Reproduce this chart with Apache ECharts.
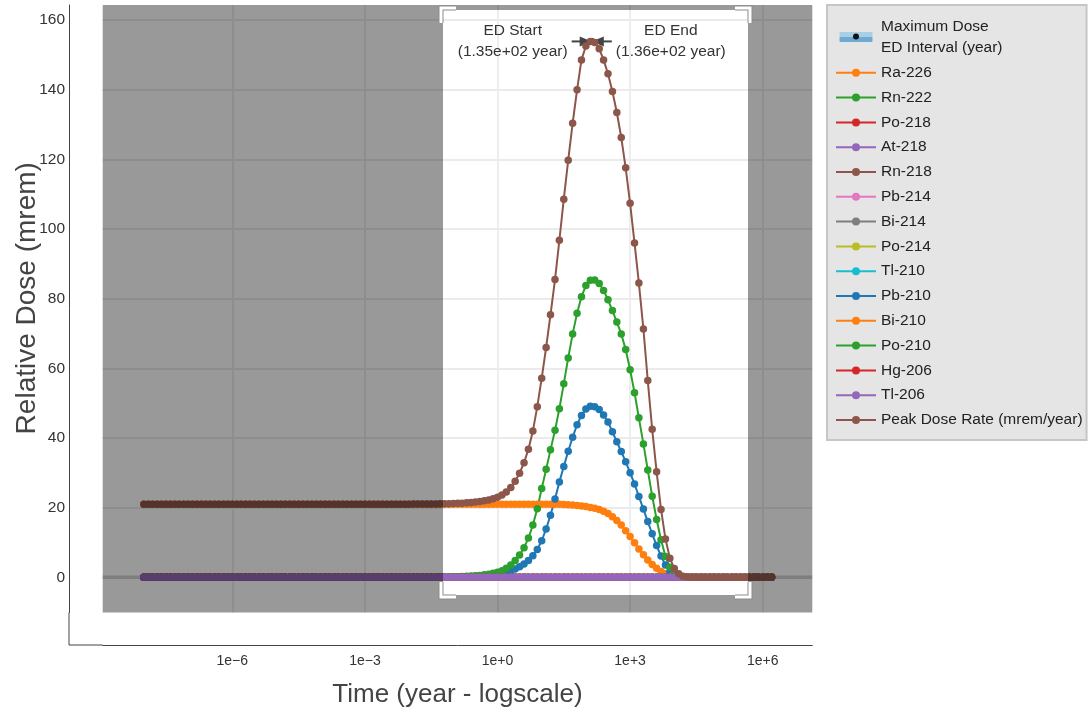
<!DOCTYPE html>
<html>
<head>
<meta charset="utf-8">
<script src="https://cdn.jsdelivr.net/npm/echarts@6/dist/echarts.min.js"></script>
<style>
  html, body { margin: 0; padding: 0; background: #ffffff; }
  #chart { width: 1089px; height: 714px; }
</style>
</head>
<body>
<div id="chart"></div>
<script>
// ---------------------------------------------------------------------------
// Sample times (years), ten per decade from 1e-8 to 1.58e6
// ---------------------------------------------------------------------------
const TIME_YEARS = [
  1e-8, 1.26e-8, 1.58e-8, 2e-8, 2.51e-8, 3.16e-8, 3.98e-8, 5.01e-8, 6.31e-8, 7.94e-8,
  1e-7, 1.26e-7, 1.58e-7, 2e-7, 2.51e-7, 3.16e-7, 3.98e-7, 5.01e-7, 6.31e-7, 7.94e-7,
  1e-6, 1.26e-6, 1.58e-6, 2e-6, 2.51e-6, 3.16e-6, 3.98e-6, 5.01e-6, 6.31e-6, 7.94e-6,
  1e-5, 1.26e-5, 1.58e-5, 2e-5, 2.51e-5, 3.16e-5, 3.98e-5, 5.01e-5, 6.31e-5, 7.94e-5,
  1e-4, 1.26e-4, 1.58e-4, 2e-4, 2.51e-4, 3.16e-4, 3.98e-4, 5.01e-4, 6.31e-4, 7.94e-4,
  1e-3, 1.26e-3, 1.58e-3, 2e-3, 2.51e-3, 3.16e-3, 3.98e-3, 5.01e-3, 6.31e-3, 7.94e-3,
  1e-2, 1.26e-2, 1.58e-2, 2e-2, 2.51e-2, 3.16e-2, 3.98e-2, 5.01e-2, 6.31e-2, 7.94e-2,
  0.1, 0.126, 0.158, 0.2, 0.251, 0.316, 0.398, 0.501, 0.631, 0.794,
  1, 1.26, 1.58, 2, 2.51, 3.16, 3.98, 5.01, 6.31, 7.94,
  10, 12.6, 15.8, 20, 25.1, 31.6, 39.8, 50.1, 63.1, 79.4,
  100, 126, 158, 200, 251, 316, 398, 501, 631, 794,
  1000, 1260, 1580, 2000, 2510, 3160, 3980, 5010, 6310, 7940,
  1e4, 1.26e4, 1.58e4, 2e4, 2.51e4, 3.16e4, 3.98e4, 5.01e4, 6.31e4, 7.94e4,
  1e5, 1.26e5, 1.58e5, 2e5, 2.51e5, 3.16e5, 3.98e5, 5.01e5, 6.31e5, 7.94e5,
  1e6, 1.26e6, 1.58e6
];

// Relative dose (mrem) per nuclide at each sample time
const RA226 = [
  21, 21, 21, 21, 21, 21, 21, 21, 21, 21,
  21, 21, 21, 21, 21, 21, 21, 21, 21, 21,
  21, 21, 21, 21, 21, 21, 21, 21, 21, 21,
  21, 21, 21, 21, 21, 21, 21, 21, 21, 21,
  21, 21, 21, 21, 21, 21, 21, 21, 21, 21,
  21, 21, 21, 21, 21, 21, 21, 21, 21, 21,
  21, 21, 21, 21, 21, 21, 21, 21, 21, 21,
  21, 21, 21, 21, 21, 21, 21, 21, 21, 21,
  21, 21, 21, 21, 21, 21, 21, 21, 21, 21,
  21, 21, 21, 21, 20.95, 20.9, 20.85, 20.75, 20.65, 20.5,
  20.3, 20.05, 19.8, 19.45, 19.0, 18.3, 17.4, 16.3, 15.0, 13.4,
  11.7, 9.9, 8.1, 6.5, 5.0, 3.7, 2.6, 1.7, 1.0, 0.5,
  0.2, 0.07, 0.02, 0, 0, 0, 0, 0, 0, 0,
  0, 0, 0, 0, 0, 0, 0, 0, 0, 0,
  0, 0, 0
];

const PB210 = [
  0, 0, 0, 0, 0, 0, 0, 0, 0, 0,
  0, 0, 0, 0, 0, 0, 0, 0, 0, 0,
  0, 0, 0, 0, 0, 0, 0, 0, 0, 0,
  0, 0, 0, 0, 0, 0, 0, 0, 0, 0,
  0, 0, 0, 0, 0, 0, 0, 0, 0, 0,
  0, 0, 0, 0, 0, 0, 0, 0, 0, 0,
  0.01, 0.01, 0.01, 0.02, 0.02, 0.03, 0.04, 0.05, 0.06, 0.07,
  0.08, 0.1, 0.13, 0.17, 0.21, 0.27, 0.34, 0.43, 0.55, 0.7,
  0.9, 1.15, 1.5, 1.9, 2.4, 3.0, 3.8, 4.8, 6.2, 8.0,
  10.5, 13.9, 17.8, 22.5, 27.4, 31.8, 36.2, 40.2, 43.8, 46.5,
  48.3, 49.1, 49.0, 48.2, 46.6, 44.6, 41.8, 38.9, 36.1, 33.2,
  30.0, 26.8, 23.2, 19.6, 16.0, 12.5, 9.1, 6.1, 3.5, 1.6,
  0.6, 0.2, 0.05, 0, 0, 0, 0, 0, 0, 0,
  0, 0, 0, 0, 0, 0, 0, 0, 0, 0,
  0, 0, 0
];

const PO210 = [
  0, 0, 0, 0, 0, 0, 0, 0, 0, 0,
  0, 0, 0, 0, 0, 0, 0, 0, 0, 0,
  0, 0, 0, 0, 0, 0, 0, 0, 0, 0,
  0, 0, 0, 0, 0, 0, 0, 0, 0, 0,
  0, 0, 0, 0, 0, 0, 0, 0, 0, 0,
  0, 0, 0, 0, 0, 0, 0, 0, 0, 0,
  0.01, 0.01, 0.02, 0.02, 0.03, 0.04, 0.05, 0.06, 0.08, 0.1,
  0.13, 0.17, 0.22, 0.28, 0.36, 0.45, 0.55, 0.7, 0.9, 1.15,
  1.45, 1.9, 2.6, 3.5, 4.8, 6.4, 8.5, 11.3, 15.0, 19.7,
  25.5, 31.0, 36.6, 42.2, 48.4, 55.6, 63.0, 69.9, 75.8, 80.6,
  83.8, 85.3, 85.4, 84.4, 82.4, 79.7, 76.6, 73.3, 69.9, 65.4,
  59.6, 53.0, 45.8, 38.3, 30.8, 23.3, 16.6, 10.8, 6.0, 2.9,
  1.2, 0.4, 0.1, 0.03, 0, 0, 0, 0, 0, 0,
  0, 0, 0, 0, 0, 0, 0, 0, 0, 0,
  0, 0, 0
];

const PEAK_DOSE = [
  21, 21, 21, 21, 21, 21, 21, 21, 21, 21,
  21, 21, 21, 21, 21, 21, 21, 21, 21, 21,
  21, 21, 21, 21, 21, 21, 21, 21, 21, 21,
  21, 21, 21, 21, 21, 21, 21, 21, 21, 21,
  21, 21, 21, 21, 21, 21, 21, 21, 21, 21,
  21, 21, 21, 21, 21, 21, 21, 21, 21, 21,
  21.01, 21.02, 21.02, 21.03, 21.04, 21.05, 21.07, 21.09, 21.11, 21.14,
  21.18, 21.23, 21.3, 21.38, 21.48, 21.6, 21.75, 21.95, 22.2, 22.55,
  23.0, 23.6, 24.5, 25.8, 27.6, 29.9, 32.9, 36.8, 42.0, 49.0,
  57.2, 66.0, 75.4, 85.5, 96.8, 108.6, 119.8, 130.4, 140.0, 148.6,
  152.6, 153.9, 153.6, 151.8, 148.6, 144.6, 139.5, 133.5, 126.3, 117.6,
  107.4, 96.0, 84.5, 71.3, 56.5, 42.5, 30.3, 19.5, 11.0, 5.5,
  2.5, 1.0, 0.3, 0.08, 0, 0, 0, 0, 0, 0,
  0, 0, 0, 0, 0, 0, 0, 0, 0, 0,
  0, 0, 0
];

// Nuclides whose dose stays at zero over the whole time span
const ZERO_DOSE = [
  0, 0, 0, 0, 0, 0, 0, 0, 0, 0,
  0, 0, 0, 0, 0, 0, 0, 0, 0, 0,
  0, 0, 0, 0, 0, 0, 0, 0, 0, 0,
  0, 0, 0, 0, 0, 0, 0, 0, 0, 0,
  0, 0, 0, 0, 0, 0, 0, 0, 0, 0,
  0, 0, 0, 0, 0, 0, 0, 0, 0, 0,
  0, 0, 0, 0, 0, 0, 0, 0, 0, 0,
  0, 0, 0, 0, 0, 0, 0, 0, 0, 0,
  0, 0, 0, 0, 0, 0, 0, 0, 0, 0,
  0, 0, 0, 0, 0, 0, 0, 0, 0, 0,
  0, 0, 0, 0, 0, 0, 0, 0, 0, 0,
  0, 0, 0, 0, 0, 0, 0, 0, 0, 0,
  0, 0, 0, 0, 0, 0, 0, 0, 0, 0,
  0, 0, 0, 0, 0, 0, 0, 0, 0, 0,
  0, 0, 0
];

// Legend order and values of each nuclide trace
const NUCLIDES = ['Ra-226', 'Rn-222', 'Po-218', 'At-218', 'Rn-218', 'Pb-214', 'Bi-214',
  'Po-214', 'Tl-210', 'Pb-210', 'Bi-210', 'Po-210', 'Hg-206', 'Tl-206', 'Peak Dose Rate (mrem/year)'];
const NUCLIDE_DOSE = [RA226, ZERO_DOSE, ZERO_DOSE, ZERO_DOSE, ZERO_DOSE, ZERO_DOSE, ZERO_DOSE,
  ZERO_DOSE, ZERO_DOSE, PB210, ZERO_DOSE, PO210, ZERO_DOSE, ZERO_DOSE, PEAK_DOSE];

// Maximum dose and its ED interval
const ED_NAME = 'Maximum Dose\nED Interval (year)';
const ED_START_YEARS = 135;
const ED_END_YEARS = 136;
const MAX_DOSE = 153.9;

// Highlighted time/dose window
const WINDOW_YEARS = [0.0594, 4.72e5];
const WINDOW_DOSE = [-5.2, 162.9];

// Axis ticks
const X_TICK_EXP = [-6, -3, 0, 3, 6];
const X_TICK_LABELS = ['1e\u22126', '1e\u22123', '1e+0', '1e+3', '1e+6'];
const Y_TICKS = [0, 20, 40, 60, 80, 100, 120, 140, 160];

// ---------------------------------------------------------------------------
const FONT = '"Liberation Sans", Arial, sans-serif';
const COLORS = ['#ff7f0e', '#2ca02c', '#d62728', '#9467bd', '#8c564b', '#e377c2', '#7f7f7f',
  '#bcbd22', '#17becf', '#1f77b4', '#ff7f0e', '#2ca02c', '#d62728', '#9467bd', '#8c564b'];

const X_EXTENT = [-8.932, 7.122];     // log10(years)
const Y_EXTENT = [-10.11, 164.36];    // mrem

const logTime = TIME_YEARS.map(t => Math.log10(t));

function fmtSci(v) {
  const parts = v.toExponential(2).split('e');
  const n = parseInt(parts[1], 10);
  return parts[0] + 'e' + (n < 0 ? '-' : '+') + String(Math.abs(n)).padStart(2, '0');
}

const edIconSvg =
  "<svg xmlns='http://www.w3.org/2000/svg' width='40' height='12'>" +
  "<rect x='0' y='0' width='40' height='6' fill='#a9cfe4'/>" +
  "<rect x='0' y='6' width='40' height='6' fill='#6eaad2'/>" +
  "<circle cx='20' cy='5.5' r='3.6' fill='#111111'/></svg>";
const edIcon = 'image://data:image/svg+xml;charset=utf-8,' + encodeURIComponent(edIconSvg);

// Grey shade outside the highlighted window, plus its corner handles
function renderWindow(params, api) {
  const cs = params.coordSys;
  const a = api.coord([api.value(0), api.value(3)]);
  const b = api.coord([api.value(1), api.value(2)]);
  const L = cs.x, R = cs.x + cs.width, T = cs.y, B = cs.y + cs.height;
  const wl = Math.round(a[0]), wr = Math.round(b[0]);
  const wt = Math.round(a[1]), wb = Math.round(b[1]);
  const shade = { fill: 'rgba(0,0,0,0.4)' };
  const children = [
    { type: 'rect', shape: { x: L, y: T, width: wl - L, height: B - T }, style: shade },
    { type: 'rect', shape: { x: wr, y: T, width: R - wr, height: B - T }, style: shade },
    { type: 'rect', shape: { x: wl, y: T, width: wr - wl, height: wt - T }, style: shade },
    { type: 'rect', shape: { x: wl, y: wb, width: wr - wl, height: B - wb }, style: shade }
  ];
  const arm = 15, off = 2;
  [[wl, wt, 1, 1], [wr, wt, -1, 1], [wl, wb, 1, -1], [wr, wb, -1, -1]].forEach(c => {
    const px = c[0] - c[2] * off, py = c[1] - c[3] * off;
    const pts = [[px, py + c[3] * arm], [px, py], [px + c[2] * arm, py]];
    children.push({ type: 'polyline', shape: { points: pts },
      style: { stroke: '#8c8c8c', lineWidth: 5, fill: null, lineJoin: 'miter' } });
    children.push({ type: 'polyline', shape: { points: pts },
      style: { stroke: '#ffffff', lineWidth: 3, fill: null, lineJoin: 'miter' } });
  });
  return { type: 'group', children: children };
}

// Inward arrows marking the ED interval at the maximum dose, with captions
function renderEd(params, api) {
  const s = api.coord([api.value(0), api.value(2)]);
  const e = api.coord([api.value(1), api.value(2)]);
  const y = s[1];
  const col = '#444444';
  const txt = { align: 'center', verticalAlign: 'middle', fontSize: 15.5, lineHeight: 21,
    fill: '#333333', fontFamily: FONT };
  return { type: 'group', children: [
    { type: 'circle', shape: { cx: (s[0] + e[0]) / 2, cy: y, r: 3.5 }, style: { fill: '#111111' } },
    { type: 'line', shape: { x1: s[0] - 20, y1: y, x2: s[0] - 8, y2: y }, style: { stroke: col, lineWidth: 2 } },
    { type: 'polygon', shape: { points: [[s[0], y], [s[0] - 12, y - 5], [s[0] - 12, y + 5]] }, style: { fill: col } },
    { type: 'polygon', shape: { points: [[e[0], y], [e[0] + 12, y - 5], [e[0] + 12, y + 5]] }, style: { fill: col } },
    { type: 'line', shape: { x1: e[0] + 8, y1: y, x2: e[0] + 20, y2: y }, style: { stroke: col, lineWidth: 2 } },
    { type: 'text', x: s[0] - 79, y: y,
      style: Object.assign({ text: 'ED Start\n(' + fmtSci(ED_START_YEARS) + ' year)' }, txt) },
    { type: 'text', x: e[0] + 79, y: y,
      style: Object.assign({ text: 'ED End\n(' + fmtSci(ED_END_YEARS) + ' year)' }, txt) }
  ]};
}

// Heavier zero line across the panel
function renderZero(params, api) {
  const cs = params.coordSys;
  const y = api.coord([api.value(0), api.value(1)])[1];
  return { type: 'line', shape: { x1: cs.x, y1: y, x2: cs.x + cs.width, y2: y },
    style: { stroke: '#d2d2d2', lineWidth: 3.5 } };
}

const series = [];
series.push({
  type: 'custom', name: 'zero', silent: true, z: 1, legendHoverLink: false,
  renderItem: renderZero, data: [[0, 0]], encode: { x: 0, y: 1 }
});
series.push({
  type: 'custom', name: ED_NAME, silent: true, z: 1,
  itemStyle: { color: '#6eaad2' },
  renderItem: renderEd,
  data: [[Math.log10(ED_START_YEARS), Math.log10(ED_END_YEARS), MAX_DOSE]],
  encode: { x: [0, 1], y: 2 }
});
NUCLIDES.forEach((name, i) => {
  series.push({
    type: 'line', name: name, silent: true, z: 2,
    symbol: 'circle', symbolSize: 7.5, showSymbol: true,
    lineStyle: { width: 2, color: COLORS[i] },
    itemStyle: { color: COLORS[i] },
    emphasis: { disabled: true },
    data: logTime.map((x, j) => [x, NUCLIDE_DOSE[i][j]])
  });
});
series.push({
  type: 'custom', name: 'window', silent: true, z: 10,
  renderItem: renderWindow,
  data: [[Math.log10(WINDOW_YEARS[0]), Math.log10(WINDOW_YEARS[1]), WINDOW_DOSE[0], WINDOW_DOSE[1]]],
  encode: { x: [0, 1], y: [2, 3] }
});

const GRID = { left: 102.7, right: 1089 - 812.3, top: 5, bottom: 714 - 612.5 };
const AXIS_X = 69, AXIS_Y = 645;

const option = {
  animation: false,
  textStyle: { fontFamily: FONT },
  grid: Object.assign({ show: true, backgroundColor: '#ffffff', borderWidth: 0,
    containLabel: false, outerBoundsMode: 'none' }, GRID),
  xAxis: {
    type: 'value', min: X_EXTENT[0], max: X_EXTENT[1], splitNumber: 5,
    offset: AXIS_Y - (714 - GRID.bottom),
    name: 'Time (year - logscale)', nameLocation: 'middle', nameGap: 37, nameMoveOverlap: false,
    nameTextStyle: { fontSize: 26, color: '#444444', fontFamily: FONT },
    axisLine: { onZero: false, lineStyle: { color: '#444444', width: 1 } },
    axisTick: { show: false },
    axisLabel: {
      fontSize: 14, color: '#333333', margin: 9, showMinLabel: false, showMaxLabel: false,
      formatter: v => { const k = X_TICK_EXP.indexOf(Math.round(v * 1000) / 1000); return k >= 0 ? X_TICK_LABELS[k] : ''; }
    },
    splitLine: { show: true, showMinLine: false, showMaxLine: false,
      lineStyle: { color: '#ebebeb', width: 1.8 } }
  },
  yAxis: {
    type: 'value', min: Y_EXTENT[0], max: Y_EXTENT[1], splitNumber: 9,
    offset: GRID.left - AXIS_X,
    name: 'Relative Dose (mrem)', nameLocation: 'middle', nameGap: 28, nameMoveOverlap: false,
    nameTextStyle: { fontSize: 28, color: '#444444', fontFamily: FONT, padding: [0, 0, 0, 21] },
    axisLine: { show: true, onZero: false, lineStyle: { color: '#444444', width: 1 } },
    axisTick: { show: false },
    axisLabel: {
      fontSize: 15.5, color: '#333333', margin: 4, showMinLabel: false, showMaxLabel: false,
      formatter: v => (Y_TICKS.indexOf(Math.round(v)) >= 0 && Math.abs(v - Math.round(v)) < 1e-6) ? String(Math.round(v)) : ''
    },
    splitLine: { show: true, showMinLine: false, showMaxLine: false,
      lineStyle: { color: '#ebebeb', width: 1.8 } }
  },
  legend: {
    orient: 'vertical', left: 827, top: 5,
    padding: [11, 4, 10, 8], itemGap: 4.8, itemWidth: 40, itemHeight: 10,
    backgroundColor: '#e5e5e5', borderColor: '#c6c6c6', borderWidth: 2,
    selectedMode: false,
    textStyle: { fontSize: 15.5, color: '#222222', fontFamily: FONT, lineHeight: 20 },
    data: [{ name: ED_NAME, icon: edIcon, textStyle: { lineHeight: 21 } }].concat(NUCLIDES)
  },
  graphic: [
    { type: 'line', silent: true, shape: { x1: AXIS_X, y1: 714 - GRID.bottom, x2: AXIS_X, y2: AXIS_Y },
      style: { stroke: '#444444', lineWidth: 1 } },
    { type: 'line', silent: true, shape: { x1: AXIS_X, y1: AXIS_Y, x2: GRID.left, y2: AXIS_Y },
      style: { stroke: '#444444', lineWidth: 1 } }
  ],
  series: series
};

const chart = echarts.init(document.getElementById('chart'), null, { renderer: 'canvas' });
chart.setOption(option);
</script>
</body>
</html>
